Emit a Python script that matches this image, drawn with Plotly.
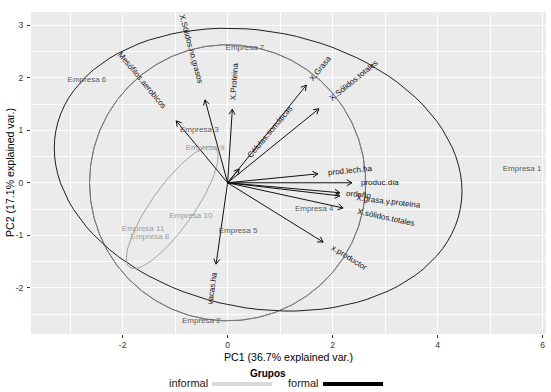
import numpy as np
import plotly.graph_objects as go

# ---------------- data ----------------
empresas = ["Empresa 1", "Empresa 2", "Empresa 3", "Empresa 4", "Empresa 5", "Empresa 6",
            "Empresa 7", "Empresa 8", "Empresa 9", "Empresa 10", "Empresa 11"]
grupos = ["formal", "formal", "formal", "formal", "formal", "formal", "formal",
          "informal", "informal", "informal", "informal"]
pc1 = [5.61, -0.50, -0.54, 1.65, 0.20, -2.68, 0.33, -1.48, -0.43, -0.70, -1.61]
pc2 = [0.26, -2.63, 1.01, -0.50, -0.92, 1.96, 2.57, -1.03, 0.66, -0.63, -0.88]

variables = ["Mesófilos.aerobicos", "X.Sólidos.no.grasos", "X.Proteina", "X.Grasa",
             "X.Sólidos.totales", "Células.somáticas", "prod.lech.ha", "produc.día",
             "ordeño", "X.grasa.y.proteina", "X.sólidos.totales", "x.productor", "vacas.ha"]
load_x = [-0.98, -0.43, 0.09, 1.50, 1.74, 0.22, 1.72, 2.37, 2.14, 2.14, 2.20, 1.82, -0.22]
load_y = [1.18, 1.58, 1.40, 1.86, 1.41, 0.26, 0.17, 0.00, -0.19, -0.25, -0.48, -1.13, -1.55]

x_ticks = [-2, 0, 2, 4, 6]
y_ticks = [-2, -1, 0, 1, 2, 3]
x_title = "PC1 (36.7% explained var.)"
y_title = "PC2 (17.1% explained var.)"
legend_title = "Grupos"
group_order = ["informal", "formal"]

# ---------------- layout constants ----------------
W, H = 551, 392
ML, MR, MT, MB = 31, 5, 12, 58
PW, PH = W - ML - MR, H - MT - MB
XR = [-3.745, 6.065]
PXU = PW / (XR[1] - XR[0])          # px per data unit (equal aspect)
YR = [3.253 - PH / PXU, 3.253]

FONT = "Liberation Sans, Arial, sans-serif"
label_col = {"formal": "#5a5a5a", "informal": "#9c9c9c"}
ell_col = {"formal": "#1f1f1f", "informal": "#a3a3a3"}
key_col = {"formal": "#000000", "informal": "#d9d9d9"}

# Arial character widths (em/1000) to estimate label length
CW = dict(a=556, b=556, c=500, d=556, e=556, f=278, g=556, h=556, i=222, j=222, k=500,
          l=222, m=833, n=556, o=556, p=556, q=556, r=333, s=500, t=278, u=556, v=500,
          w=722, x=500, y=500, z=500)
CW.update({"á": 556, "é": 556, "í": 222, "ó": 556, "ñ": 556, ".": 278, " ": 278,
           "C": 722, "X": 667, "S": 667, "M": 833, "P": 667, "G": 778})

def text_px(s, size):
    return sum(CW.get(ch, 556) for ch in s) / 1000.0 * size

fig = go.Figure()

# correlation circle (ggbiplot style)
u2 = np.column_stack([pc1, pc2]) ** 2
r = np.sqrt(-2 * np.log(1 - 0.69)) * np.prod(u2.mean(axis=0)) ** 0.25
th = np.concatenate([np.linspace(-np.pi, np.pi, 50), np.linspace(np.pi, -np.pi, 50)])
fig.add_trace(go.Scatter(x=r * np.cos(th), y=r * np.sin(th), mode="lines",
                         line=dict(color="#7a7a7a", width=1), hoverinfo="skip",
                         showlegend=False))

# group ellipses (68% normal probability)
ed = np.sqrt(-2 * np.log(1 - 0.68))
tt = np.linspace(-np.pi, np.pi, 101)
circ = np.column_stack([np.cos(tt), np.sin(tt)])
for g in ["formal", "informal"]:
    pts = np.array([[a, b] for a, b, gg in zip(pc1, pc2, grupos) if gg == g])
    mu = pts.mean(axis=0)
    sigma = np.cov(pts.T)
    R = np.linalg.cholesky(sigma).T
    ell = circ @ R * ed + mu
    fig.add_trace(go.Scatter(x=ell[:, 0], y=ell[:, 1], mode="lines",
                             line=dict(color=ell_col[g], width=1), hoverinfo="skip",
                             showlegend=False))

# arrows (shaft + open head, 30 degrees)
head = 6.0 / PXU
d = np.pi / 6
ax_, ay_ = [], []
for vx, vy in zip(load_x, load_y):
    ang = np.arctan2(vy, vx)
    ax_ += [0, vx, None,
            vx - head * np.cos(ang + d), vx, vx - head * np.cos(ang - d), None]
    ay_ += [0, vy, None,
            vy - head * np.sin(ang + d), vy, vy - head * np.sin(ang - d), None]
fig.add_trace(go.Scatter(x=ax_, y=ay_, mode="lines", line=dict(color="#111111", width=1),
                         hoverinfo="skip", showlegend=False))

# empresa labels
for g in ["formal", "informal"]:
    idx = [i for i, gg in enumerate(grupos) if gg == g]
    fig.add_trace(go.Scatter(x=[pc1[i] for i in idx], y=[pc2[i] for i in idx],
                             text=[empresas[i] for i in idx], mode="text",
                             textposition="middle center",
                             textfont=dict(family=FONT, size=8, color=label_col[g]),
                             hoverinfo="skip", showlegend=False))

annotations = []
VSIZE = 8
for name, vx, vy in zip(variables, load_x, load_y):
    norm = np.hypot(vx, vy)
    ux, uy = vx / norm, vy / norm
    L = text_px(name, VSIZE) / PXU
    cx, cy = vx + ux * 0.75 * L, vy + uy * 0.75 * L
    angle = np.degrees(np.arctan(vy / vx))
    annotations.append(dict(x=cx, y=cy, xref="x", yref="y", text=name, showarrow=False,
                            textangle=-angle, xanchor="center", yanchor="middle",
                            font=dict(family=FONT, size=VSIZE, color="#111111")))

def px2paper_x(px):
    return (px - ML) / PW

def px2paper_y(py):
    return (H - MB - py) / PH

# axis titles
annotations.append(dict(x=0.5, y=px2paper_y(357), xref="paper", yref="paper", text=x_title,
                        showarrow=False, xanchor="center", yanchor="middle",
                        font=dict(family=FONT, size=10.6, color="#000000")))
annotations.append(dict(x=px2paper_x(10), y=0.5, xref="paper", yref="paper", text=y_title,
                        showarrow=False, xanchor="center", yanchor="middle", textangle=-90,
                        font=dict(family=FONT, size=10.6, color="#000000")))

# custom legend (ggplot style: label then key)
annotations.append(dict(x=px2paper_x(268), y=px2paper_y(373), xref="paper", yref="paper",
                        text="<b>" + legend_title + "</b>", showarrow=False,
                        xanchor="center", yanchor="middle",
                        font=dict(family=FONT, size=10, color="#000000")))
shapes = []
key_start = {"informal": 212, "formal": 323}
for g in group_order:
    ks = key_start[g]
    annotations.append(dict(x=px2paper_x(ks - 2), y=px2paper_y(383), xref="paper",
                            yref="paper", text=g, showarrow=False, xanchor="right",
                            yanchor="middle",
                            font=dict(family=FONT, size=11, color="#1a1a1a")))
    shapes.append(dict(type="line", xref="paper", yref="paper",
                       x0=px2paper_x(ks), x1=px2paper_x(ks + 60),
                       y0=px2paper_y(384), y1=px2paper_y(384),
                       line=dict(color=key_col[g], width=4)))

axis_common = dict(showgrid=True, gridcolor="#ffffff", gridwidth=1.1, zeroline=False,
                   ticks="outside", ticklen=3, tickwidth=1, tickcolor="#333333",
                   tickfont=dict(family=FONT, size=8.5, color="#333333"),
                   showline=False, fixedrange=True)

fig.update_layout(
    width=W, height=H,
    margin=dict(l=ML, r=MR, t=MT, b=MB, pad=0),
    paper_bgcolor="#ffffff", plot_bgcolor="#ebebeb",
    showlegend=False,
    xaxis=dict(range=XR, tickvals=x_ticks, ticktext=[str(v) for v in x_ticks],
               minor=dict(dtick=1, tick0=0, showgrid=True, gridcolor="#ffffff",
                          gridwidth=0.55),
               **axis_common),
    yaxis=dict(range=YR, tickvals=y_ticks, ticktext=[str(v) for v in y_ticks],
               minor=dict(dtick=0.5, tick0=0, showgrid=True, gridcolor="#ffffff",
                          gridwidth=0.55),
               ticklabelstandoff=2, **axis_common),
    annotations=annotations,
    shapes=shapes,
)

fig.write_html("out.html", config={"displayModeBar": False},
               post_script="document.body.style.margin='0';document.body.style.padding='0';")
